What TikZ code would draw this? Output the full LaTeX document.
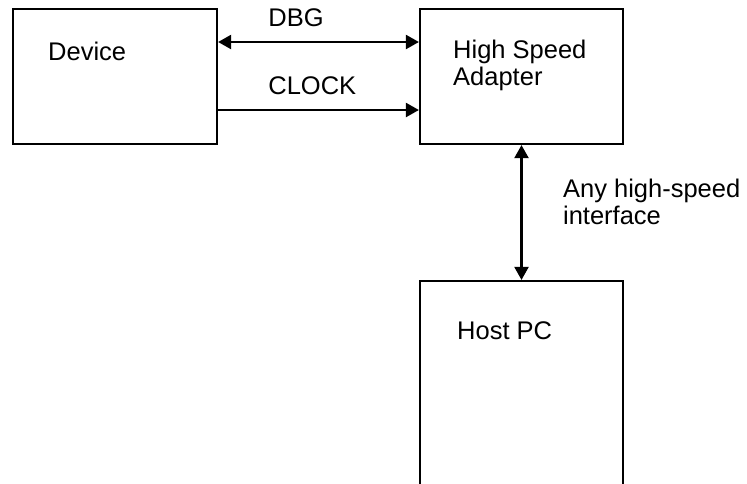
\documentclass[tikz,border=0pt]{standalone}
\usepackage{fontspec}
\setmainfont{Liberation Sans}
\usepackage{tikz}
\usetikzlibrary{arrows.meta}

\tikzset{
	blk/.style={draw, line width=2.2pt, rectangle, inner sep=0pt},
	txt/.style={anchor=base west, inner sep=0pt, align=left, font=\fontsize{25.5}{27}\selectfont},
}

\begin{document}
\begin{tikzpicture}[x=1pt, y=-1pt, >={Triangle[length=13pt,width=14pt]}]
		\useasboundingbox (0,0) rectangle (747,483);
		\clip (0,0) rectangle (747,483);
		\node[blk, minimum width=204pt, minimum height=135pt] (dev) at (115,76.5) {};
		\node[blk, minimum width=203pt, minimum height=135pt] (hsa) at (521.5,76.5) {};
		\node[blk, minimum width=203pt, minimum height=240pt] (host) at (521.5,401) {};
		\node[txt] (devtxt) at (48,60) {Device};
		\node[txt] (hsatxt) at (453,85) {High Speed\\Adapter};
		\node[txt] (hosttxt) at (457,339) {Host PC};
		\draw [<->, line width=2.2pt]([yshift=34.5pt]dev.east)--([yshift=34.5pt]hsa.west) node[txt, pos=0.245, yshift=16pt]{DBG};
		\draw [->, line width=2.2pt]([yshift=-33.5pt]dev.east)--([yshift=-33.5pt]hsa.west) node[txt, pos=0.245, yshift=16pt]{CLOCK};
		\draw [<->, line width=2.2pt](hsa.south)--(host.north) node[txt, midway, xshift=40.5pt, yshift=-12pt]{Any high-speed\\interface};
	\end{tikzpicture}
\end{document}
